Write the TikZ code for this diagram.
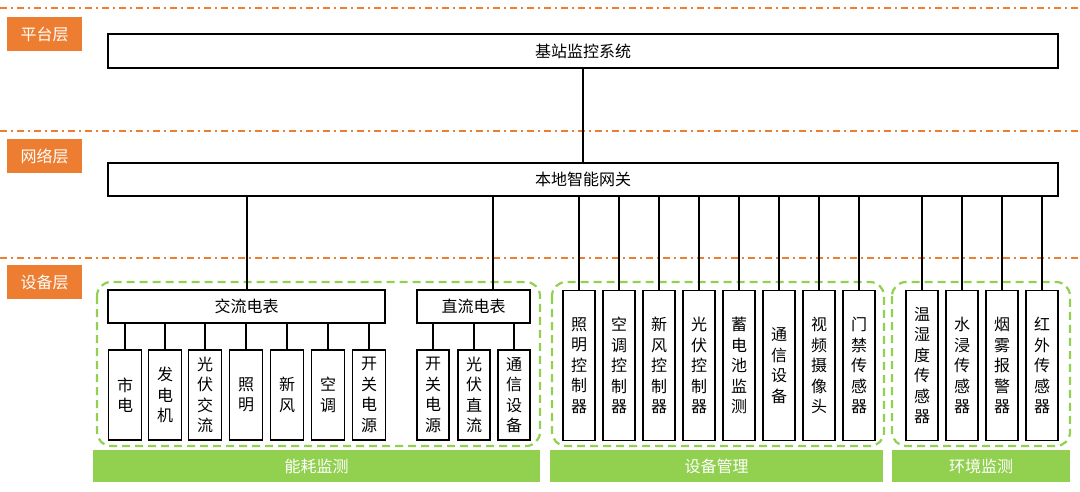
\documentclass[tikz,border=0pt]{standalone}
\usepackage{fontspec}
\setmainfont{Noto Sans CJK SC}
\definecolor{org}{RGB}{237,125,49}
\definecolor{grn}{RGB}{146,208,80}
\begin{document}
\begin{tikzpicture}[x=1pt,y=-1pt,
  box/.style={draw=black,line width=1.6pt,fill=white,inner sep=0pt,font=\fontsize{16}{18}\selectfont},
  vbox/.style={box,minimum width=33pt,minimum height=150pt,align=center,font=\fontsize{16}{20.5}\selectfont},
  lay/.style={fill=org,text=white,minimum width=75pt,minimum height=34pt,inner sep=0pt,font=\fontsize{16}{18}\selectfont},
  bar/.style={fill=grn,text=white,minimum height=32pt,inner sep=0pt,font=\fontsize{16}{18}\selectfont},
  sep/.style={draw=org,line width=1.5pt,dash pattern=on 7pt off 4pt on 2pt off 4pt},
  grp/.style={draw=grn,line width=2.2pt,dash pattern=on 8pt off 5pt,rounded corners=14pt},
  ln/.style={line width=1.6pt}]
\useasboundingbox (0,0) rectangle (1080,491);
\draw[sep] (0,8) -- (1080,8);
\draw[sep] (0,131) -- (1080,131);
\draw[sep] (0,258) -- (1080,258);
\node[lay] (l1) at (44.5,34) {平台层};
\node[lay] (l2) at (44.5,156) {网络层};
\node[lay] (l3) at (44.5,282) {设备层};
\node[box,minimum width=950pt,minimum height=34pt] (bs) at (583,51) {基站监控系统};
\node[box,minimum width=950pt,minimum height=33pt] (gw) at (583,179.5) {本地智能网关};
\draw[ln] (bs) -- (gw);
\draw[grp] (97,282) rectangle (540,446);
\draw[grp] (552,282) rectangle (884,446);
\draw[grp] (892,282) rectangle (1070,446);
\node[box,minimum width=277pt,minimum height=33pt] (ac) at (246.5,306.5) {交流电表};
\node[box,minimum width=113pt,minimum height=33pt] (dc) at (473.5,306.5) {直流电表};
\coordinate (acin) at (247,290);
\draw[ln] (gw.south -| acin) -- (acin);
\draw[ln] (gw.south -| 493,0) -- (493,290);
\foreach \n/\x/\t in {a1/125/市\\电, a2/165/发\\电\\机, a3/205/光\\伏\\交\\流, a4/246/照\\明, a5/287/新\\风, a6/328/空\\调, a7/369/开\\关\\电\\源}{
  \node[vbox,minimum height=90pt] (\n) at (\x,395) {\t};
  \draw[ln] (\n.north |- ac.south) -- (\n.north);}
\foreach \n/\x/\t in {d1/433/开\\关\\电\\源, d2/474/光\\伏\\直\\流, d3/514/通\\信\\设\\备}{
  \node[vbox,minimum width=32pt,minimum height=90pt] (\n) at (\x,395) {\t};
  \draw[ln] (\n.north |- dc.south) -- (\n.north);}
\foreach \n/\x/\t in {e1/579/照\\明\\控\\制\\器, e2/619/空\\调\\控\\制\\器, e3/659/新\\风\\控\\制\\器, e4/699/光\\伏\\控\\制\\器, e5/739/蓄\\电\\池\\监\\测, e6/779/通\\信\\设\\备, e7/819/视\\频\\摄\\像\\头, e8/859/门\\禁\\传\\感\\器,
  f1/922/温\\湿\\度\\传\\感\\器, f2/962/水\\浸\\传\\感\\器, f3/1002/烟\\雾\\报\\警\\器, f4/1042/红\\外\\传\\感\\器}{
  \node[vbox,minimum width=32pt] (\n) at (\x,365.5) {\t};
  \draw[ln] (\n.north |- gw.south) -- (\n.north);}
\node[bar,minimum width=447pt] (b1) at (316.5,466) {能耗监测};
\node[bar,minimum width=333pt] (b2) at (716.5,466) {设备管理};
\node[bar,minimum width=178pt] (b3) at (981,466) {环境监测};
\end{tikzpicture}
\end{document}
